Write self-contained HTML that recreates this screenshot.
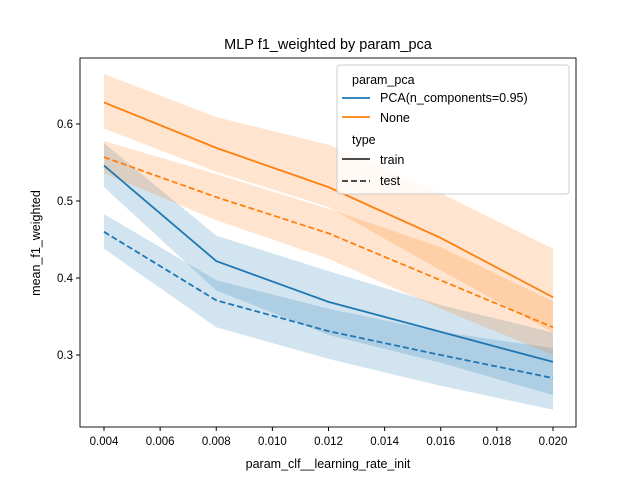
<!DOCTYPE html>
<html><head><meta charset="utf-8"><style>
body{margin:0;background:#fff}
svg{font-family:"Liberation Sans","DejaVu Sans",sans-serif}
</style></head><body>
<svg id="chart" width="640" height="480">
<rect width="640" height="480" fill="#fff"/>
<text x="328" y="49" font-size="14.5" text-anchor="middle">MLP f1_weighted by param_pca</text>
<g id="plot"></g>
<rect x="80" y="58" width="496" height="369" fill="none" stroke="#000" stroke-width="0.9"/>
<g id="axes"></g>
<text x="328" y="468" font-size="12.5" text-anchor="middle">param_clf__learning_rate_init</text>
<text transform="translate(40,243) rotate(-90)" font-size="12.5" text-anchor="middle">mean_f1_weighted</text>
<g>
<rect x="337" y="65" width="232" height="129" rx="3" fill="#fff" fill-opacity="0.8" stroke="#ccc"/>
<text x="352" y="84" font-size="12.5">param_pca</text>
<line x1="342" y1="98" x2="370" y2="98" stroke="#1f77b4" stroke-width="1.8"/>
<text x="380" y="102" font-size="12.5">PCA(n_components=0.95)</text>
<line x1="342" y1="117" x2="370" y2="117" stroke="#ff7f0e" stroke-width="1.8"/>
<text x="380" y="122" font-size="12.5">None</text>
<text x="352" y="144" font-size="12.5">type</text>
<line x1="342" y1="159" x2="370" y2="159" stroke="#333" stroke-width="1.8"/>
<text x="380" y="164" font-size="12.5">train</text>
<line x1="342" y1="181" x2="370" y2="181" stroke="#333" stroke-width="1.8" stroke-dasharray="6,3"/>
<text x="380" y="185" font-size="12.5">test</text>
</g>
</svg>
<script>
const xs=[0.004,0.008,0.012,0.016,0.020];
const pcaTrain=[0.546,0.422,0.369,0.330,0.291];
const pcaTrainHi=[0.575,0.455,0.409,0.365,0.329];
const pcaTrainLo=[0.518,0.384,0.326,0.290,0.248];
const pcaTest=[0.460,0.371,0.331,0.300,0.270];
const pcaTestHi=[0.483,0.397,0.360,0.330,0.309];
const pcaTestLo=[0.438,0.336,0.295,0.260,0.229];
const noneTrain=[0.628,0.569,0.518,0.452,0.375];
const noneTrainHi=[0.665,0.609,0.573,0.510,0.438];
const noneTrainLo=[0.594,0.538,0.492,0.410,0.329];
const noneTest=[0.557,0.505,0.458,0.397,0.336];
const noneTestHi=[0.578,0.535,0.490,0.440,0.370];
const noneTestLo=[0.536,0.475,0.425,0.360,0.300];
const xTicks=[0.004,0.006,0.008,0.010,0.012,0.014,0.016,0.018,0.020];
const yTicks=[0.3,0.4,0.5,0.6];
const X=v=>104+(v-0.004)/0.016*449;
const Y=v=>124+(0.6-v)*770;
const NS="http://www.w3.org/2000/svg";
const plot=document.getElementById('plot'),axes=document.getElementById('axes');
function mk(tag,attrs,parent){const e=document.createElementNS(NS,tag);for(const k in attrs)e.setAttribute(k,attrs[k]);parent.appendChild(e);return e;}
function band(hi,lo,col,name){
  let d=xs.map((x,i)=>(i?'L':'M')+X(x)+','+Y(hi[i])).join('');
  for(let i=xs.length-1;i>=0;i--)d+='L'+X(xs[i])+','+Y(lo[i]);
  const p=mk('path',{d:d+'Z',fill:col,'fill-opacity':0.2},plot);
  
  
}
function line(v,col,dash,name){
  const p=mk('path',{d:xs.map((x,i)=>(i?'L':'M')+X(x)+','+Y(v[i])).join(''),fill:'none',stroke:col,'stroke-width':1.8,'stroke-dasharray':dash},plot);
  
  
}
band(pcaTrainHi,pcaTrainLo,'#1f77b4','band-pca-train');
band(pcaTestHi,pcaTestLo,'#1f77b4','band-pca-test');
band(noneTrainHi,noneTrainLo,'#ff7f0e','band-none-train');
band(noneTestHi,noneTestLo,'#ff7f0e','band-none-test');
line(pcaTrain,'#1f77b4','none','line-pca-train');
line(pcaTest,'#1f77b4','6,3','line-pca-test');
line(noneTrain,'#ff7f0e','none','line-none-train');
line(noneTest,'#ff7f0e','6,3','line-none-test');
xTicks.forEach(t=>{
  mk('line',{x1:X(t),x2:X(t),y1:427,y2:431,stroke:'#000'},axes);
  const tx=mk('text',{x:X(t),y:445,'font-size':11.5,'text-anchor':'middle'},axes);
  tx.textContent=t.toFixed(3);
  
  
});
yTicks.forEach(t=>{
  mk('line',{x1:76,x2:80,y1:Y(t),y2:Y(t),stroke:'#000'},axes);
  const tx=mk('text',{x:73,y:Y(t)+4,'font-size':11.5,'text-anchor':'end'},axes);
  tx.textContent=t.toFixed(1);
  
  
});
</script>
</body></html>
